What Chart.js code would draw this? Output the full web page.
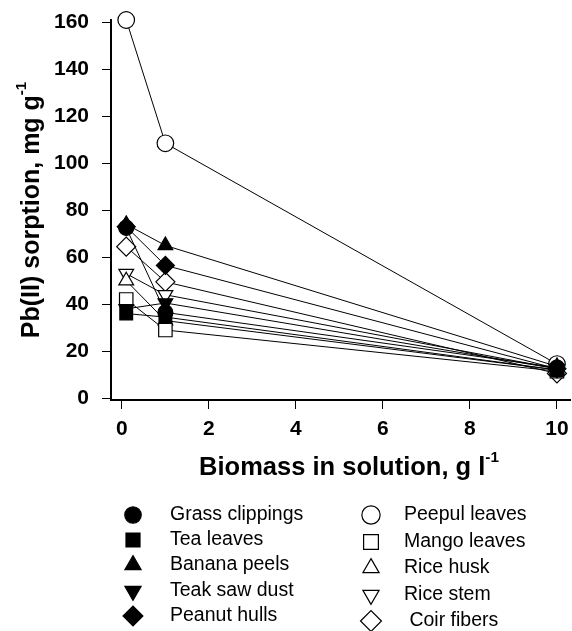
<!DOCTYPE html>
<html>
<head>
<meta charset="utf-8">
<script src="https://cdn.jsdelivr.net/npm/chart.js@4.4.1/dist/chart.umd.min.js"></script>
<style>
  html,body{margin:0;padding:0;background:#fff;}
  #wrap{width:572px;height:631px;}
</style>
</head>
<body>
<div id="wrap"><canvas id="c" width="572" height="631"></canvas></div>
<script>
// ---- DATA ----
const biomass = [0.1, 1, 10];
const seriesNames = [
  "Grass clippings","Tea leaves","Banana peels","Teak saw dust","Peanut hulls",
  "Peepul leaves","Mango leaves","Rice husk","Rice stem","Coir fibers"
];
const grass  = [72.5, 36.5, 13];
const tea    = [36, 34.5, 12];
const banana = [74, 65, 13.5];
const teak   = [38, 40.5, 12.5];
const peanut = [73, 56.5, 12.5];
const peepul = [161, 108.5, 14.5];
const mango  = [42, 29, 11.5];
const husk   = [50, 33, 12];
const stem   = [53, 44, 12.5];
const coir   = [64.5, 49.5, 10.5];
const xTicks = [0, 2, 4, 6, 8, 10];
const yTicks = [0, 20, 40, 60, 80, 100, 120, 140, 160];

const FONT = "'Liberation Sans', Arial, sans-serif";

// marker styles: [pointStyle, filled, rotation, radius]
const markers = [
  ['circle', true, 0, 7.5],
  ['rect', true, 0, 9],
  ['triangle', true, 0, 8.5],
  ['triangle', true, 180, 8.5],
  ['rectRot', true, 0, 9],
  ['circle', false, 0, 8.3],
  ['rect', false, 0, 9.5],
  ['triangle', false, 0, 8.5],
  ['triangle', false, 180, 8.5],
  ['rectRot', false, 0, 9.5]
];
const allValues = [grass, tea, banana, teak, peanut, peepul, mango, husk, stem, coir];

const datasets = allValues.map((vals, i) => {
  const m = markers[i];
  return {
    label: seriesNames[i],
    data: vals.map((v, j) => ({x: biomass[j], y: v})),
    borderColor: '#000',
    borderWidth: 1,
    pointStyle: m[0],
    pointRotation: m[2],
    pointRadius: m[3],
    pointBackgroundColor: m[1] ? '#000' : '#fff',
    pointBorderColor: '#000',
    pointBorderWidth: 1.2,
    tension: 0,
    fill: false,
    clip: false
  };
});

// ---- TITULOS Y LEYENDA ----
function drawSup(ctx, parts, x, y, size) {
  // parts: [[text, isSup]], centrado en x
  let total = 0;
  parts.forEach(p => {
    ctx.font = 'bold ' + (p[1] ? size * 0.6 : size) + 'px ' + FONT;
    total += ctx.measureText(p[0]).width;
  });
  let cx = x - total / 2;
  parts.forEach(p => {
    ctx.font = 'bold ' + (p[1] ? size * 0.6 : size) + 'px ' + FONT;
    ctx.fillText(p[0], cx, p[1] ? y - size * 0.42 : y);
    cx += ctx.measureText(p[0]).width;
  });
}

function drawMarker(ctx, m, x, y, scale) {
  Chart.helpers.drawPoint(ctx, {pointStyle: m[0], radius: m[3] * scale, rotation: m[2], borderWidth: 1.2}, x, y);
}

const extras = {
  id: 'extras',
  afterDraw(chart) {
    const ctx = chart.ctx;
    ctx.save();
    ctx.fillStyle = '#000';
    ctx.textBaseline = 'middle';
    ctx.textAlign = 'left';
    drawSup(ctx, [['Biomass in solution, g l', false], ['-1', true]], 349, 468, 25.5);
    ctx.save();
    ctx.translate(32, 210);
    ctx.rotate(-Math.PI / 2);
    drawSup(ctx, [['Pb(II) sorption, mg g', false], ['-1', true]], 0, 0, 25);
    ctx.restore();

    // leyenda, dos columnas
    const leftRows = [515, 540, 565, 591, 616];
    const rightRows = [515, 542, 568, 595, 621];
    seriesNames.forEach((name, i) => {
      const m = markers[i];
      const col = i < 5 ? 0 : 1;
      const y = col ? rightRows[i - 5] : leftRows[i];
      const mx = col ? 371 : 133;
      const tx = col ? 404 : 170;
      ctx.fillStyle = m[1] ? '#000' : '#fff';
      ctx.strokeStyle = '#000';
      ctx.lineWidth = 1.2;
      drawMarker(ctx, m, mx, y, 1.1);
      ctx.fillStyle = '#000';
      ctx.font = '19.5px ' + FONT;
      ctx.fillText((i === 9 ? ' ' : '') + name, tx, y);
    });
    ctx.restore();
  }
};

new Chart(document.getElementById('c'), {
  type: 'line',
  data: {datasets},
  options: {
    responsive: false,
    animation: false,
    layout: {autoPadding: false, padding: {top: 20, right: 2, left: 0, bottom: 151}},
    plugins: {legend: {display: false}, tooltip: {enabled: false}},
    scales: {
      x: {
        type: 'linear',
        min: -0.25,
        max: 10.3,
        afterBuildTicks: s => { s.ticks = xTicks.map(v => ({value: v})); },
        afterFit: s => { s.height = 80; s.paddingLeft = 0; s.paddingRight = 0; },
        border: {display: true, color: '#000', width: 2},
        grid: {display: true, drawOnChartArea: false, drawTicks: true, tickLength: 9, color: '#000', lineWidth: 1},
        ticks: {color: '#000', padding: 8, maxRotation: 0, font: {family: FONT, size: 21, weight: 'bold'}}
      },
      y: {
        type: 'linear',
        min: -0.8,
        max: 161,
        afterBuildTicks: s => { s.ticks = yTicks.map(v => ({value: v})); },
        afterFit: s => { s.width = 111; s.paddingTop = 0; s.paddingBottom = 0; },
        border: {display: true, color: '#000', width: 2},
        grid: {display: true, drawOnChartArea: false, drawTicks: true, tickLength: 9, color: '#000', lineWidth: 1},
        ticks: {color: '#000', padding: 13, font: {family: FONT, size: 21, weight: 'bold'}}
      }
    }
  },
  plugins: [extras]
});
</script>
</body>
</html>
